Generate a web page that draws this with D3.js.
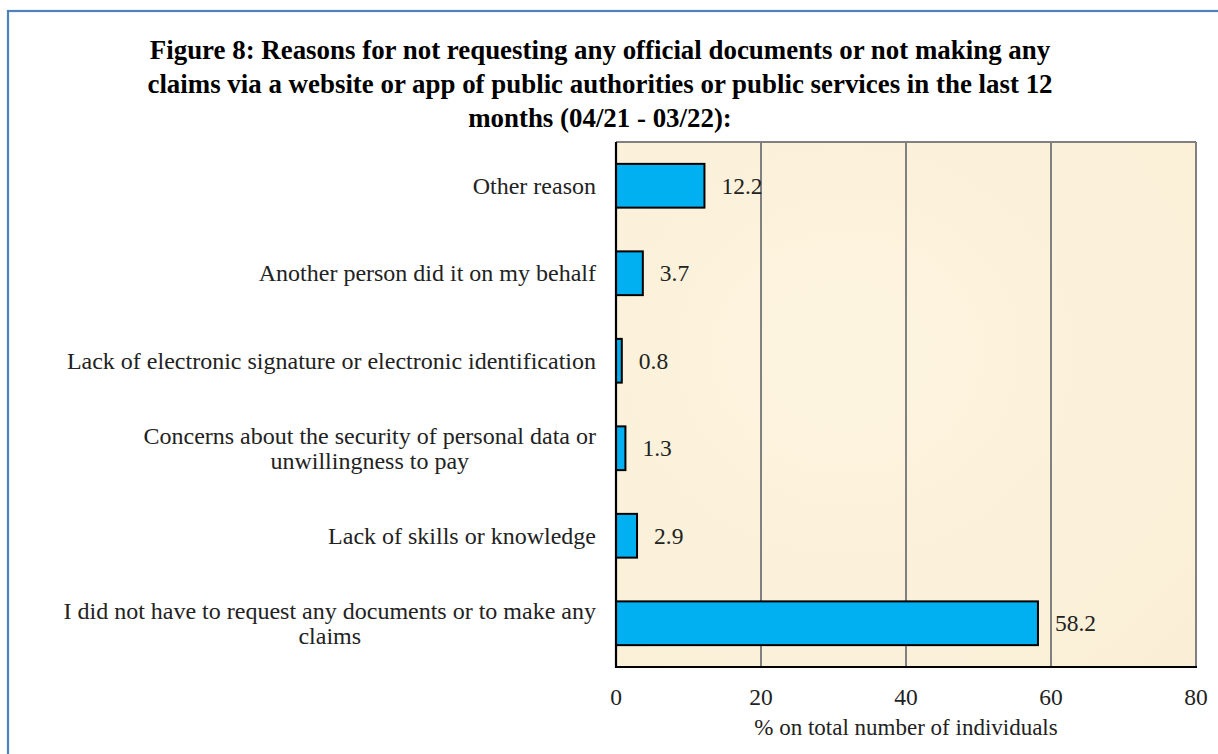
<!DOCTYPE html>
<html><head><meta charset="utf-8">
<script src="https://cdn.jsdelivr.net/npm/d3@7"></script>
<style>html,body{margin:0;padding:0;background:#fff;}svg{display:block;}</style>
</head><body>
<svg id="chart" width="1218" height="754"></svg>
<script>
const categories = [
  ["Other reason"],
  ["Another person did it on my behalf"],
  ["Lack of electronic signature or electronic identification"],
  ["Concerns about the security of personal data or", "unwillingness to pay"],
  ["Lack of skills or knowledge"],
  ["I did not have to request any documents or to make any", "claims"]
];
const values = [12.2, 3.7, 0.8, 1.3, 2.9, 58.2];
const xTicks = [0, 20, 40, 60, 80];
const titleLines = [
  "Figure 8: Reasons for not requesting any official documents or not making any",
  "claims via a website or app of public authorities or public services in the last 12",
  "months (04/21 - 03/22):"
];
const xTitle = "% on total number of individuals";

const svg = d3.select("#chart");
const font = "'Liberation Serif','Times New Roman',serif";
const fs = 23.5;
const L = 616, R = 1196, T = 142, B = 667;

// outer blue frame
svg.append("rect").attr("x", 8).attr("y", 11).attr("width", 1230).attr("height", 760)
  .attr("fill", "none").attr("stroke", "#4f81bd").attr("stroke-width", 2.2);

// title
svg.append("g").selectAll("text").data(titleLines).join("text")
  .attr("x", 600).attr("y", (d, i) => 59 + i * 34)
  .attr("text-anchor", "middle").attr("font-family", font)
  .attr("font-weight", "bold").attr("font-size", 26.9).attr("fill", "#000")
  .text(d => d);

const x = d3.scaleLinear().domain([0, 80]).range([L, R]);
const y = d3.scaleBand().domain(d3.range(categories.length)).range([T, B]).paddingInner(0.5).paddingOuter(0.25);

// plot background
const defs = svg.append("defs");
const grad = defs.append("radialGradient").attr("id", "bg").attr("cx", "40%").attr("cy", "40%").attr("r", "80%");
grad.append("stop").attr("offset", "0%").attr("stop-color", "#fdf4e0");
grad.append("stop").attr("offset", "100%").attr("stop-color", "#faefd6");
svg.append("rect").attr("x", L).attr("y", T).attr("width", R - L).attr("height", B - T).attr("fill", "url(#bg)");

// gridlines
svg.append("g").selectAll("line").data(xTicks.filter(d => d > 0)).join("line")
  .attr("x1", d => x(d)).attr("x2", d => x(d)).attr("y1", T).attr("y2", B)
  .attr("stroke", "#808080").attr("stroke-width", 2);
svg.append("line").attr("x1", L).attr("x2", R).attr("y1", T).attr("y2", T)
  .attr("stroke", "#808080").attr("stroke-width", 2);

// bars
svg.append("g").selectAll("rect").data(values).join("rect")
  .attr("x", x(0)).attr("y", (d, i) => y(i))
  .attr("width", d => x(d) - x(0)).attr("height", y.bandwidth())
  .attr("fill", "#00b0f0").attr("stroke", "#000").attr("stroke-width", 2);

// value labels
svg.append("g").selectAll("text").data(values).join("text")
  .attr("x", d => x(d) + 17).attr("y", (d, i) => y(i) + y.bandwidth() / 2 + 8)
  .attr("font-family", font).attr("font-size", fs).attr("fill", "#222")
  .text(d => d.toFixed(1));

// axes lines
svg.append("line").attr("x1", L).attr("x2", L).attr("y1", T).attr("y2", B + 1)
  .attr("stroke", "#000").attr("stroke-width", 2.2);
svg.append("line").attr("x1", L - 1).attr("x2", R + 1).attr("y1", B).attr("y2", B)
  .attr("stroke", "#000").attr("stroke-width", 2.2);

// x tick labels
svg.append("g").selectAll("text").data(xTicks).join("text")
  .attr("x", d => x(d)).attr("y", 705).attr("text-anchor", "middle")
  .attr("font-family", font).attr("font-size", fs).attr("fill", "#222")
  .text(d => d);

svg.append("text").attr("x", (L + R) / 2).attr("y", 735).attr("text-anchor", "middle")
  .attr("font-family", font).attr("font-size", 23).attr("fill", "#222").text(xTitle);

// category labels
const lfs = 24;
const cg = svg.append("g");
categories.forEach((lines, i) => {
  const cy = y(i) + y.bandwidth() / 2;
  if (lines.length === 1) {
    cg.append("text").attr("x", 596).attr("y", cy + 8).attr("text-anchor", "end")
      .attr("font-family", font).attr("font-size", lfs).attr("fill", "#222").text(lines[0]);
  } else {
    const t1 = cg.append("text").attr("x", 596).attr("y", cy - 12 + 8).attr("text-anchor", "end")
      .attr("font-family", font).attr("font-size", lfs).attr("fill", "#222").text(lines[0]);
    const w = t1.node().getComputedTextLength();
    cg.append("text").attr("x", 596 - w / 2).attr("y", cy + 13 + 8).attr("text-anchor", "middle")
      .attr("font-family", font).attr("font-size", lfs).attr("fill", "#222").text(lines[1]);
  }
});
</script>
</body></html>
